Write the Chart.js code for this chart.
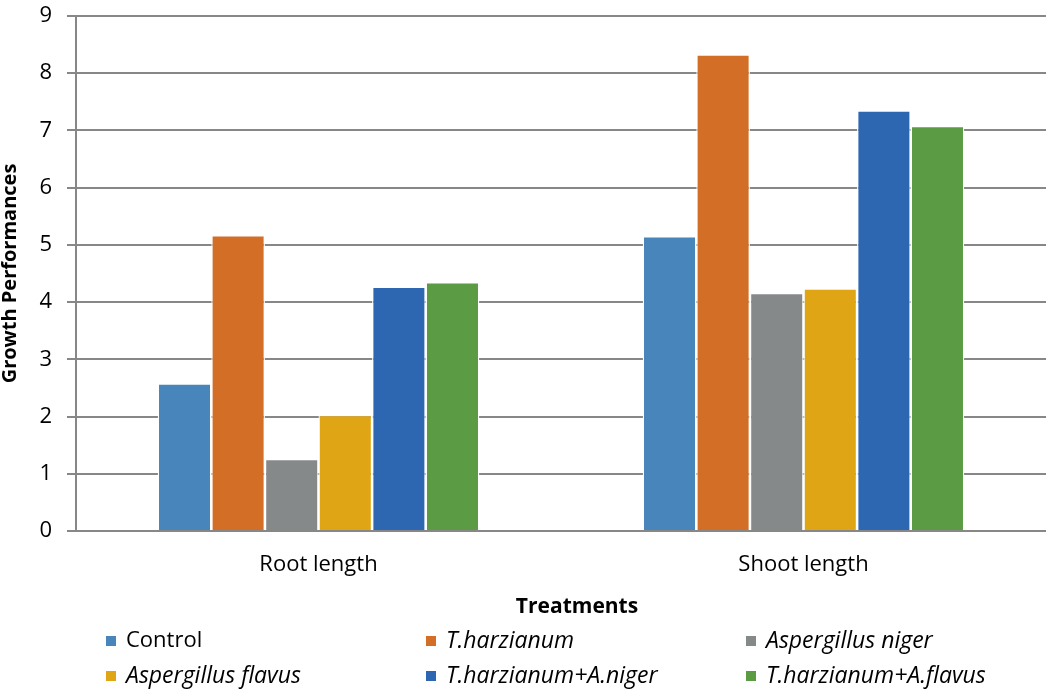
<!DOCTYPE html>
<html>
<head>
<meta charset="utf-8">
<script src="https://cdn.jsdelivr.net/npm/chart.js@4.4.0/dist/chart.umd.min.js"></script>
<style>
  html, body { margin: 0; padding: 0; background: #ffffff; }
  #wrap { width: 1046px; height: 690px; }
</style>
</head>
<body>
<div id="wrap"><canvas id="chart" width="1046" height="690"></canvas></div>
<script>
// Growth performance by treatment group
const categories = ['Root length', 'Shoot length'];
const seriesNames = ['Control', 'T.harzianum', 'Aspergillus niger', 'Aspergillus flavus',
                     'T.harzianum+A.niger', 'T.harzianum+A.flavus'];
const control        = [2.58, 5.15];
const tHarzianum     = [5.17, 8.33];
const aNiger         = [1.26, 4.16];
const aFlavus        = [2.03, 4.24];
const tHarzANiger    = [4.27, 7.35];
const tHarzAFlavus   = [4.35, 7.08];
const yTicks = [0, 1, 2, 3, 4, 5, 6, 7, 8, 9];
const italicNames = [false, true, true, true, true, true];

const seriesValues = [control, tHarzianum, aNiger, aFlavus, tHarzANiger, tHarzAFlavus];
const seriesColors = ['#4785BA', '#D26E26', '#86898A', '#DFA515', '#2E67B1', '#5B9B43'];

const FONT = "'Open Sans', sans-serif";
const GRID = '#878787';

// Bottom title and three-column legend, drawn below the plot
const bottomPlugin = {
  id: 'bottomLegend',
  afterDraw(chart) {
    const ctx = chart.ctx;
    ctx.save();
    ctx.fillStyle = '#000';
    ctx.textBaseline = 'middle';
    ctx.textAlign = 'center';
    ctx.font = "bold 21px " + FONT;
    ctx.fillText('Treatments', 577, 607);

    const colX = [106, 426, 746];
    const rowY = [641, 676];
    ctx.textAlign = 'left';
    chart.data.datasets.forEach((ds, i) => {
      const x = colX[i % 3];
      const y = rowY[Math.floor(i / 3)];
      ctx.fillStyle = ds.backgroundColor;
      ctx.fillRect(x, y - 5, 10, 10);
      ctx.fillStyle = '#000';
      ctx.font = italicNames[i] ? ('italic 23px ' + FONT) : ('22px ' + FONT);
      ctx.fillText(ds.label, x + 20, y);
    });
    ctx.restore();
  }
};

new Chart(document.getElementById('chart'), {
  type: 'bar',
  data: {
    labels: categories,
    datasets: seriesNames.map((name, i) => ({
      label: name,
      data: seriesValues[i],
      backgroundColor: seriesColors[i],
      borderColor: '#ffffff',
      borderWidth: 1.3,
      barPercentage: 1.0,
      categoryPercentage: 0.663
    }))
  },
  options: {
    responsive: false,
    animation: false,
    devicePixelRatio: 1,
    layout: { padding: { top: 16, right: 0, bottom: 99, left: 0 } },
    plugins: {
      legend: { display: false },
      tooltip: { enabled: false }
    },
    scales: {
      x: {
        grid: { display: false },
        border: { display: false },
        ticks: { color: '#000', font: { family: FONT, size: 22 }, padding: 13 },
        afterFit(scale) {
          scale.height = 60;
          scale.paddingLeft = 0;
          scale.paddingRight = 0;
        }
      },
      y: {
        min: 0,
        max: 9,
        afterBuildTicks(scale) { scale.ticks = yTicks.map(v => ({ value: v })); },
        ticks: { color: '#000', font: { family: FONT, size: 22 }, padding: 15 },
        grid: { color: GRID, lineWidth: 2, tickLength: 9, drawTicks: true },
        border: { display: true, color: GRID, width: 2 },
        title: {
          display: true,
          text: 'Growth Performances',
          color: '#000',
          font: { family: FONT, size: 20, weight: 'bold', lineHeight: 1 },
          padding: 0
        },
        afterFit(scale) {
          scale.width = 76;
          scale.paddingTop = 0;
          scale.paddingBottom = 0;
        }
      }
    }
  },
  plugins: [bottomPlugin]
});
</script>
</body>
</html>
